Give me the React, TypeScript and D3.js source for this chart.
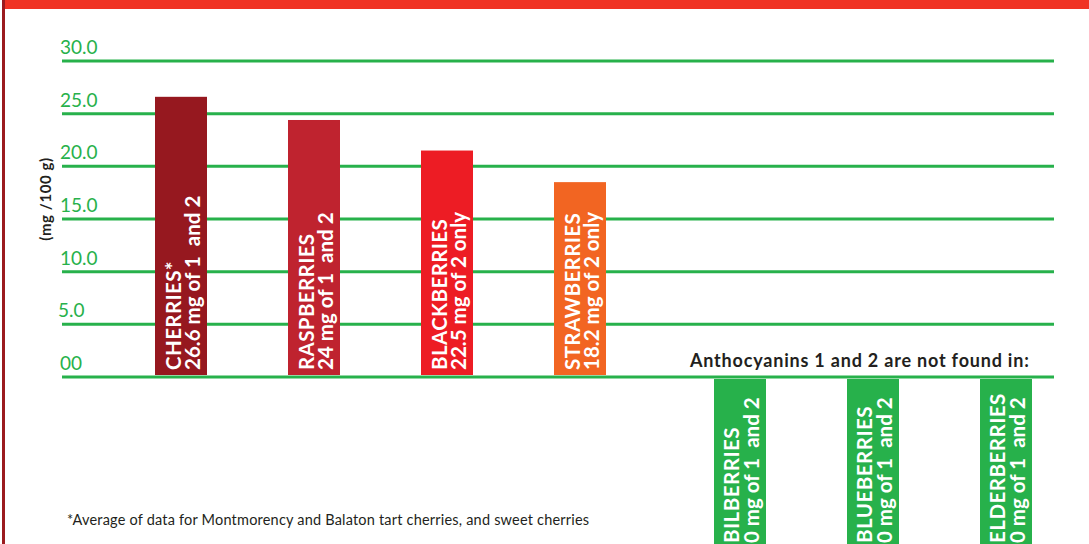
import { useEffect, useRef } from 'react';
import * as d3 from 'd3';

const fruits = ['CHERRIES*', 'RASPBERRIES', 'BLACKBERRIES', 'STRAWBERRIES'];
const amounts = [26.6, 24.4, 21.5, 18.5];
const amountLabels = ['26.6 mg of 1  and 2', '24 mg of 1  and 2', '22.5 mg of 2 only', '18.2 mg of 2 only'];
const barColors = ['#96181f', '#bf232f', '#ed1c24', '#f26522'];

const absentFruits = ['BILBERRIES', 'BLUEBERRIES', 'ELDERBERRIES'];
const absentLabels = ['0 mg of 1  and 2', '0 mg of 1  and 2', '0 mg of 1  and 2'];

const ticks = [0, 5, 10, 15, 20, 25, 30];
const tickLabels = ['00', '5.0', '10.0', '15.0', '20.0', '25.0', '30.0'];

const GREEN = '#27b14b';
const FONT = 'Lato, "Open Sans", sans-serif';

const App = (): JSX.Element => {
  const svgRef = useRef<SVGSVGElement>(null);

  useEffect(() => {
    const width = 1089;
    const height = 544;
    const step = 133;
    const pad = 1 - 52 / step;

    const svg = d3.select(svgRef.current)
      .attr('width', width)
      .attr('height', height)
      .style('font-family', FONT);

    const y = d3.scaleLinear().domain([0, 30]).range([377, 61]);

    const xRed = d3.scaleBand<string>()
      .domain(fruits)
      .range([155, 155 + step * (fruits.length - pad)])
      .paddingInner(pad)
      .paddingOuter(0);

    const xGreen = d3.scaleBand<string>()
      .domain(absentFruits)
      .range([714, 714 + step * (absentFruits.length - pad)])
      .paddingInner(pad)
      .paddingOuter(0);

    // frame
    svg.append('rect').attr('x', 0).attr('y', 0).attr('width', width).attr('height', height).attr('fill', '#fff');
    svg.append('rect').attr('x', 2).attr('y', 0).attr('width', 3).attr('height', height).attr('fill', '#9b1b1f');
    svg.append('rect').attr('x', 5).attr('y', 0).attr('width', width - 5).attr('height', 9).attr('fill', '#f03324');

    // grid
    svg.selectAll('line.grid')
      .data(ticks)
      .enter()
      .append('line')
      .attr('class', 'grid')
      .attr('x1', 62)
      .attr('x2', 1054)
      .attr('y1', d => y(d))
      .attr('y2', d => y(d))
      .attr('stroke', GREEN)
      .attr('stroke-width', 3);

    svg.selectAll('text.tick')
      .data(ticks)
      .enter()
      .append('text')
      .attr('class', 'tick')
      .attr('x', d => (d === 5 ? 58 : 60))
      .attr('y', d => y(d) - 7)
      .attr('fill', GREEN)
      .attr('font-size', 19)
      .text((_d, i) => tickLabels[i]);

    svg.append('text')
      .attr('transform', 'translate(51,199) rotate(-90)')
      .attr('text-anchor', 'middle')
      .attr('font-size', 15)
      .attr('letter-spacing', 0.6)
      .attr('font-weight', 'bold')
      .attr('fill', '#231f20')
      .text('(mg /100 g)');

    // bars
    svg.selectAll('rect.bar')
      .data(fruits)
      .enter()
      .append('rect')
      .attr('class', 'bar')
      .attr('x', d => xRed(d) ?? 0)
      .attr('y', (_d, i) => y(amounts[i]))
      .attr('width', xRed.bandwidth())
      .attr('height', (_d, i) => y(0) - 2 - y(amounts[i]))
      .attr('fill', (_d, i) => barColors[i]);

    const redLabels = svg.selectAll('g.redlabel')
      .data(fruits)
      .enter()
      .append('g')
      .attr('class', 'redlabel')
      .attr('transform', d => `translate(${xRed(d) ?? 0},${y(0) - 7}) rotate(-90)`)
      .attr('fill', '#fff')
      .attr('font-weight', 'bold')
      .attr('font-size', 20.5);

    redLabels.append('text').attr('y', 26).attr('letter-spacing', 0.4).text(d => d);
    redLabels.append('text').attr('y', 45).style('white-space', 'pre').text((_d, i) => amountLabels[i]);

    svg.append('text')
      .attr('x', 690)
      .attr('y', 367)
      .attr('font-size', 18)
      .attr('letter-spacing', 0.8)
      .attr('font-weight', 'bold')
      .attr('fill', '#231f20')
      .text('Anthocyanins 1 and 2 are not found in:');

    svg.selectAll('rect.absent')
      .data(absentFruits)
      .enter()
      .append('rect')
      .attr('class', 'absent')
      .attr('x', d => xGreen(d) ?? 0)
      .attr('y', y(0) + 2)
      .attr('width', xGreen.bandwidth())
      .attr('height', height - y(0))
      .attr('fill', GREEN);

    const greenLabels = svg.selectAll('g.greenlabel')
      .data(absentFruits)
      .enter()
      .append('g')
      .attr('class', 'greenlabel')
      .attr('transform', d => `translate(${xGreen(d) ?? 0},543) rotate(-90)`)
      .attr('fill', '#fff')
      .attr('font-weight', 'bold')
      .attr('font-size', 20.5);

    greenLabels.append('text').attr('y', 25).attr('letter-spacing', 0.5).text(d => d);
    greenLabels.append('text').attr('y', 45).style('white-space', 'pre').text((_d, i) => absentLabels[i]);

    svg.append('text')
      .attr('x', 67)
      .attr('y', 525)
      .attr('font-size', 14.5)
      .attr('letter-spacing', 0.2)
      .attr('fill', '#231f20')
      .text('*Average of data for Montmorency and Balaton tart cherries, and sweet cherries');

    return () => {
      d3.select(svgRef.current).selectAll('*').remove();
    };
  }, []);

  return (
    <svg ref={svgRef} style={{ position: 'absolute', left: 0, top: 0, display: 'block' }} />
  );
};

export default App;
